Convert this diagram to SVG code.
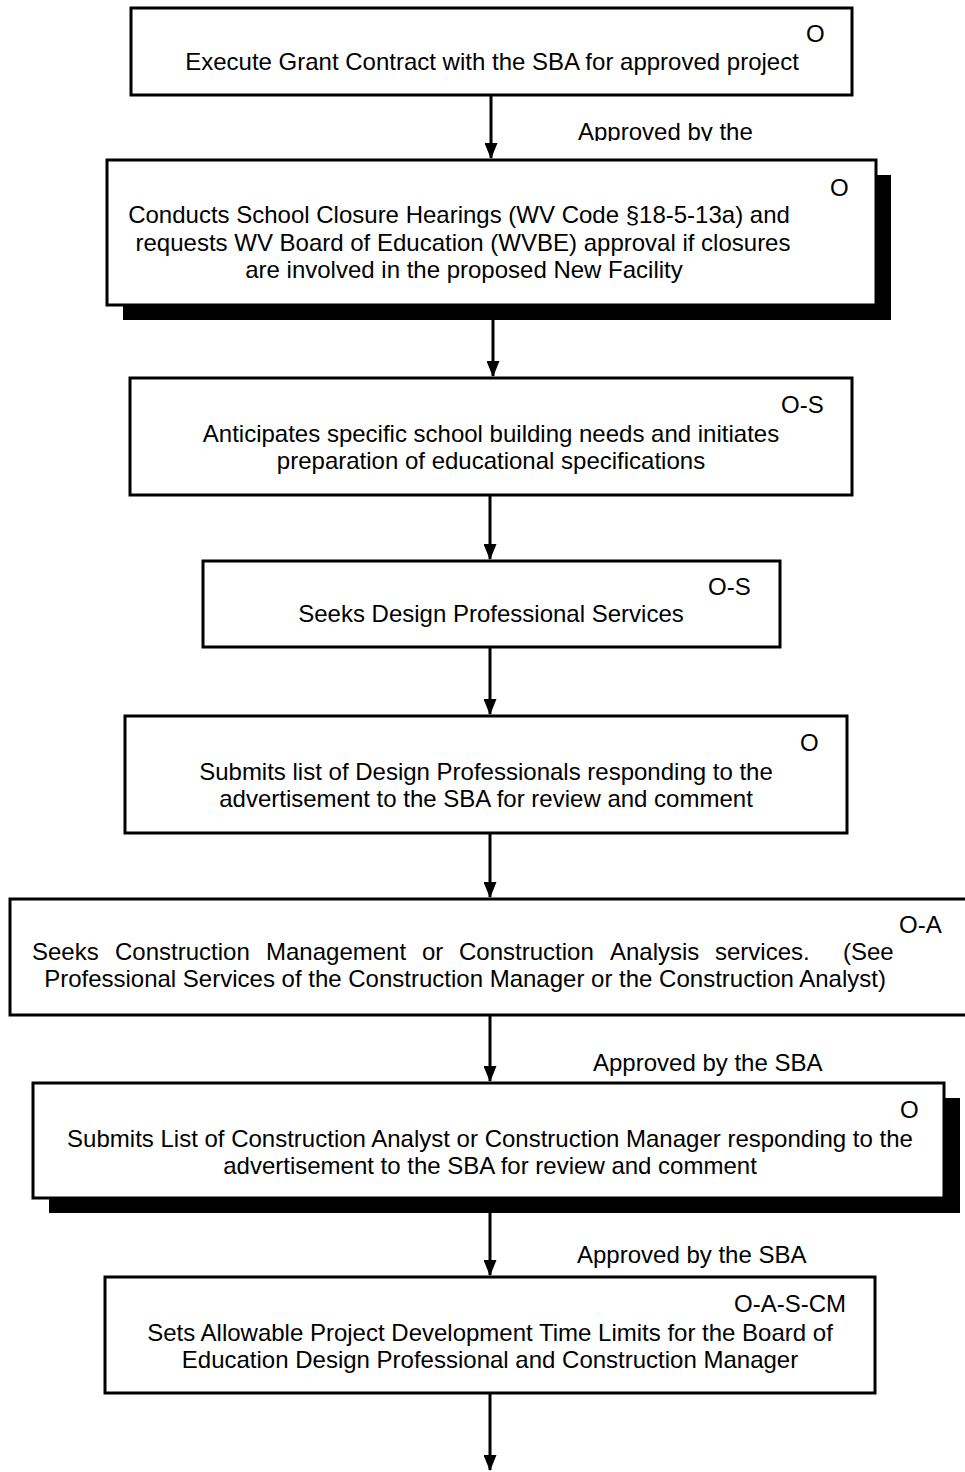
<svg xmlns="http://www.w3.org/2000/svg" width="965" height="1472" viewBox="0 0 965 1472">
<style>
.box{fill:#fff;stroke:#000;stroke-width:3}
.shadow{fill:#000;stroke:none}
.t{font-family:"Liberation Sans",Arial,sans-serif;font-size:24px;fill:#000}
.c{text-anchor:middle}
.conn{stroke:#000;stroke-width:3;fill:none}
</style>
<defs>
<marker id="ah" markerWidth="16" markerHeight="13" refX="15" refY="6.5" orient="auto" markerUnits="userSpaceOnUse" viewBox="0 0 16 13">
<path d="M0,0 L16,6.5 L0,13 Z" fill="#000"/>
</marker>
<clipPath id="clipLabel"><rect x="560" y="100" width="220" height="41"/></clipPath>
</defs>
<rect width="965" height="1472" fill="#fff"/>
<g id="connectors">
<line class="conn" x1="491" y1="95" x2="491" y2="158" marker-end="url(#ah)"/>
<line class="conn" x1="493" y1="320" x2="493" y2="376" marker-end="url(#ah)"/>
<line class="conn" x1="490" y1="495" x2="490" y2="559" marker-end="url(#ah)"/>
<line class="conn" x1="490" y1="647" x2="490" y2="714" marker-end="url(#ah)"/>
<line class="conn" x1="490" y1="833" x2="490" y2="897" marker-end="url(#ah)"/>
<line class="conn" x1="490" y1="1015" x2="490" y2="1081" marker-end="url(#ah)"/>
<line class="conn" x1="490" y1="1213" x2="490" y2="1275" marker-end="url(#ah)"/>
<line class="conn" x1="490" y1="1393" x2="490" y2="1470" marker-end="url(#ah)"/>
<text class="t" x="578" y="140" clip-path="url(#clipLabel)">Approved by the</text>
<text class="t" x="593" y="1071">Approved by the SBA</text>
<text class="t" x="577" y="1263">Approved by the SBA</text>
</g>
<g id="n1">
<rect class="box" x="131" y="8" width="721" height="87"/>
<text class="t" x="806" y="42">O</text>
<text class="t c" x="492" y="70">Execute Grant Contract with the SBA for approved project</text>
</g>
<g id="n2">
<rect class="shadow" x="123" y="175" width="768" height="145"/>
<rect class="box" x="107" y="160" width="769" height="145"/>
<text class="t" x="830" y="196">O</text>
<text class="t c" x="459" y="223">Conducts School Closure Hearings (WV Code §18-5-13a) and</text>
<text class="t c" x="463" y="251">requests WV Board of Education (WVBE) approval if closures</text>
<text class="t c" x="464" y="278">are involved in the proposed New Facility</text>
</g>
<g id="n3">
<rect class="box" x="130" y="378" width="722" height="117"/>
<text class="t" x="781" y="413">O-S</text>
<text class="t c" x="491" y="442">Anticipates specific school building needs and initiates</text>
<text class="t c" x="491" y="469">preparation of educational specifications</text>
</g>
<g id="n4">
<rect class="box" x="203" y="561" width="577" height="86"/>
<text class="t" x="708" y="595">O-S</text>
<text class="t c" x="491" y="622">Seeks Design Professional Services</text>
</g>
<g id="n5">
<rect class="box" x="125" y="716" width="722" height="117"/>
<text class="t" x="800" y="751">O</text>
<text class="t c" x="486" y="780">Submits list of Design Professionals responding to the</text>
<text class="t c" x="486" y="807">advertisement to the SBA for review and comment</text>
</g>
<g id="n6">
<rect class="box" x="10" y="899" width="980" height="116"/>
<text class="t" x="899" y="933">O-A</text>
<text class="t" y="960"><tspan x="32">Seeks</tspan><tspan x="115">Construction</tspan><tspan x="266">Management</tspan><tspan x="422">or</tspan><tspan x="459">Construction</tspan><tspan x="610">Analysis</tspan><tspan x="715">services.</tspan><tspan x="843">(See</tspan></text>
<text class="t c" x="465" y="987">Professional Services of the Construction Manager or the Construction Analyst)</text>
</g>
<g id="n7">
<rect class="shadow" x="49" y="1098" width="911" height="115"/>
<rect class="box" x="33" y="1083" width="911" height="115"/>
<text class="t" x="900" y="1118">O</text>
<text class="t c" x="490" y="1147">Submits List of Construction Analyst or Construction Manager responding to the</text>
<text class="t c" x="490" y="1174">advertisement to the SBA for review and comment</text>
</g>
<g id="n8">
<rect class="box" x="105" y="1277" width="770" height="116"/>
<text class="t" x="734" y="1312">O-A-S-CM</text>
<text class="t c" x="490" y="1341">Sets Allowable Project Development Time Limits for the Board of</text>
<text class="t c" x="490" y="1368">Education Design Professional and Construction Manager</text>
</g>
</svg>
